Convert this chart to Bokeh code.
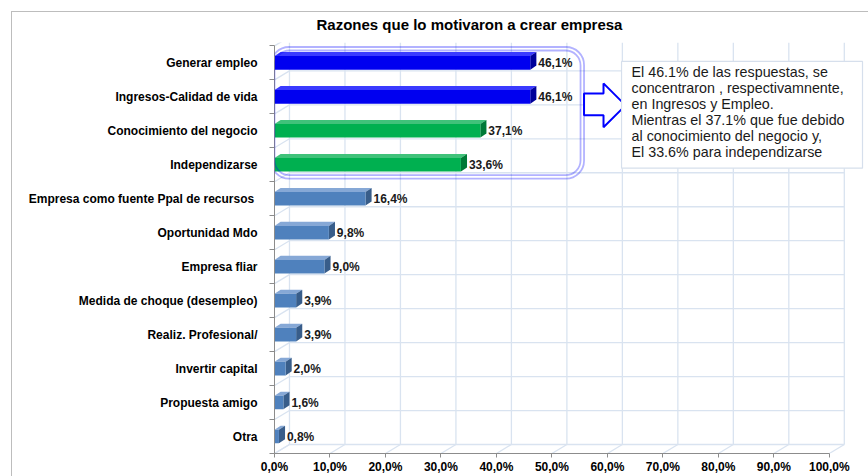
from bokeh.plotting import figure
from bokeh.models import FixedTicker, BoxAnnotation, Range1d, ColumnDataSource
from bokeh.core.properties import value
from bokeh.embed import file_html
from bokeh.resources import INLINE

# ---------------- data ----------------
title_text = "Razones que lo motivaron a crear empresa"
categories = [
    "Generar empleo",
    "Ingresos-Calidad de vida",
    "Conocimiento del negocio",
    "Independizarse",
    "Empresa como fuente Ppal de recursos ",
    "Oportunidad Mdo",
    "Empresa fliar",
    "Medida de choque (desempleo)",
    "Realiz. Profesional/",
    "Invertir capital",
    "Propuesta amigo",
    "Otra",
]
values = [46.1, 46.1, 37.1, 33.6, 16.4, 9.8, 9.0, 3.9, 3.9, 2.0, 1.6, 0.8]
groups = ["top", "top", "mid", "mid", "rest", "rest", "rest", "rest", "rest", "rest", "rest", "rest"]
x_ticks = [0, 10, 20, 30, 40, 50, 60, 70, 80, 90, 100]
x_tick_labels = ["0,0%", "10,0%", "20,0%", "30,0%", "40,0%", "50,0%",
                 "60,0%", "70,0%", "80,0%", "90,0%", "100,0%"]
note_lines = [
    "El 46.1% de las respuestas, se",
    "concentraron , respectivamnente,",
    "en Ingresos y Empleo.",
    "Mientras el 37.1%  que fue debido",
    "al conocimiento del negocio y,",
    "El 33.6%  para independizarse",
]

# ---------------- styles ----------------
FONT = "Liberation Sans"
palette = {
    "top": ("#0000f0", "#00009a", "#3a3aff"),
    "mid": ("#00b050", "#007a37", "#40c27a"),
    "rest": ("#4f81bd", "#385d8a", "#86a8d6"),
}
GRID = "#d9e3f0"
AXIS = "#8c8c8c"

n = len(categories)
ys = [n - 1 - i for i in range(n)]
h = 0.40            # bar thickness (category units)
dx, dy = 1.1, 0.12  # 3-D depth of bars
gdx, gdy = 2.7, 0.265  # 3-D depth of back wall

p = figure(width=868, height=476, x_range=Range1d(0, 106.7), y_range=Range1d(-0.5, 11.6),
           output_backend="svg", toolbar_location=None,
           min_border_left=274, min_border_right=2, min_border_top=42, min_border_bottom=22,
           styles={"box-shadow": "inset 11px 11px 0 0 #ffffff, inset 12px 12px 0 0 #bdbdbd"})
p.outline_line_color = None
p.background_fill_color = "white"
p.border_fill_color = None
p.xgrid.grid_line_color = None
p.ygrid.grid_line_color = None

# title
p.title.text = title_text
p.title.align = "left"
p.title.offset = 42
p.title.standoff = 19
p.title.text_font = FONT
p.title.text_font_size = "15px"
p.title.text_font_style = "bold"
p.title.text_color = "#000000"

# ---------- 3-D back wall / floor grid ----------
bounds = [k - 0.5 for k in range(n + 1)]
p.segment(x0=[t + gdx for t in x_ticks], y0=[-0.5 + gdy] * len(x_ticks),
          x1=[t + gdx for t in x_ticks], y1=[11.6] * len(x_ticks), line_color=GRID, line_width=1.3)
p.segment(x0=x_ticks, y0=[-0.5] * len(x_ticks),
          x1=[t + gdx for t in x_ticks], y1=[-0.5 + gdy] * len(x_ticks), line_color=GRID, line_width=1.3)
p.segment(x0=[gdx] * len(bounds), y0=[b + gdy for b in bounds],
          x1=[100 + gdx] * len(bounds), y1=[b + gdy for b in bounds], line_color=GRID, line_width=1.3)
p.segment(x0=[0] * len(bounds), y0=bounds, x1=[gdx] * len(bounds), y1=[b + gdy for b in bounds],
          line_color=GRID, line_width=1.3)

# ---------- bars ----------
front = [palette[g][0] for g in groups]
side = [palette[g][1] for g in groups]
topc = [palette[g][2] for g in groups]

top_xs = [[0, v, v + dx, dx] for v in values]
top_ys = [[y + h / 2, y + h / 2, y + h / 2 + dy, y + h / 2 + dy] for y in ys]
side_xs = [[v, v, v + dx, v + dx] for v in values]
side_ys = [[y - h / 2, y + h / 2, y + h / 2 + dy, y - h / 2 + dy] for y in ys]

p.patches(xs=top_xs, ys=top_ys, fill_color=topc, line_color=None)
p.patches(xs=side_xs, ys=side_ys, fill_color=side, line_color=None)
p.hbar(y=ys, left=0, right=values, height=h, fill_color=front, line_color=None)

labels = [f"{v:.1f}%".replace(".", ",") for v in values]
src = ColumnDataSource(dict(x=values, y=ys, t=labels))
p.text(x="x", y="y", text="t", source=src, x_offset=8, text_baseline="middle", text_align="left",
       text_font=value(FONT), text_font_size="12px", text_font_style="bold", text_color="#1a1a1a")

# ---------- axes ----------
p.xaxis.ticker = FixedTicker(ticks=x_ticks)
p.xaxis.major_label_overrides = {t: l for t, l in zip(x_ticks, x_tick_labels)}
p.xaxis.bounds = (0, 100)
p.xaxis.axis_line_color = AXIS
p.xaxis.major_tick_line_color = AXIS
p.xaxis.major_tick_out = 4
p.xaxis.major_tick_in = 0
p.xaxis.minor_tick_line_color = None
p.xaxis.major_label_standoff = 2
p.xaxis.major_label_text_font = FONT
p.xaxis.major_label_text_font_size = "12px"
p.xaxis.major_label_text_font_style = "bold"
p.xaxis.major_label_text_color = "#000000"

p.yaxis.ticker = FixedTicker(ticks=ys, minor_ticks=bounds)
p.yaxis.major_label_overrides = {y: c for y, c in zip(ys, categories)}
p.yaxis.bounds = (-0.5, 11.5)
p.yaxis.axis_line_color = AXIS
p.yaxis.major_tick_line_color = None
p.yaxis.major_tick_out = 0
p.yaxis.major_tick_in = 0
p.yaxis.minor_tick_line_color = AXIS
p.yaxis.minor_tick_out = 5
p.yaxis.minor_tick_in = 0
p.yaxis.major_label_standoff = 12
p.yaxis.major_label_text_font = FONT
p.yaxis.major_label_text_font_size = "12px"
p.yaxis.major_label_text_font_style = "bold"
p.yaxis.major_label_text_color = "#000000"

# ---------- callout ----------
p.add_layout(BoxAnnotation(left=-0.63, right=55.79, top=11.468, bottom=7.591,
                           fill_alpha=0, line_color="#0000ff", line_width=1.8, border_radius=18))
p.add_layout(BoxAnnotation(left=0.0, right=55.16, top=11.365, bottom=7.694,
                           fill_alpha=0, line_color="#0000ff", line_width=1.8, border_radius=15))

p.patch(x=[55.79, 59.3, 59.3, 63.27, 59.3, 59.3, 55.79],
        y=[10.102, 10.102, 10.396, 9.75, 9.104, 9.456, 9.456],
        fill_color="white", line_color="#0000ff", line_width=2)

p.quad(left=[62.55], right=[105.98], top=[11.042], bottom=[7.9],
       fill_color="white", line_color="#d6dfec", line_width=1.2)
p.text(x=[64.35], y=[10.954], text=["\n".join(note_lines)], text_baseline="top", text_align="left",
       text_font=value(FONT), text_font_size="14.3px", text_line_height=1.0, text_color="#1a1a1a")

open("out.html", "w").write(file_html(p, INLINE))
